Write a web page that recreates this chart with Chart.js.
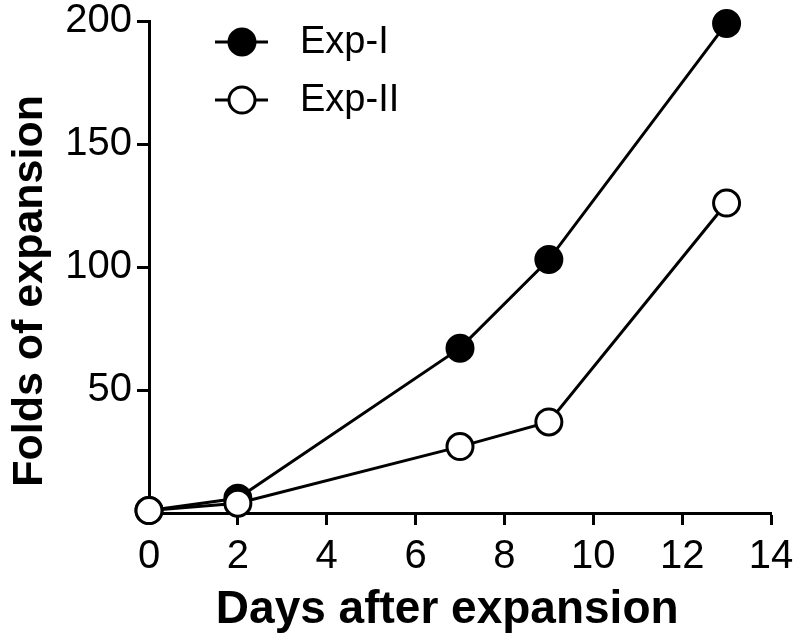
<!DOCTYPE html>
<html>
<head>
<meta charset="utf-8">
<script src="https://cdn.jsdelivr.net/npm/chart.js@4"></script>
<style>
  html, body { margin: 0; padding: 0; background: #fff; }
  #wrap { width: 796px; height: 643px; }
</style>
</head>
<body>
<div id="wrap"><canvas id="growthChart" width="796" height="643"></canvas></div>
<script>
// data
const days = [0, 2, 7, 9, 13];
const expOne = [1, 6, 67, 103, 199];
const expTwo = [1, 4, 27, 37, 126];
const seriesNames = ['Exp-I', 'Exp-II'];
const xTitle = 'Days after expansion\u00a0\u00a0';
const yTitle = 'Folds of expansion\u00a0\u00a0\u00a0\u00a0';

const FONT = '"Liberation Sans", Arial, Helvetica, sans-serif';

function toPoints(xs, ys) {
    return xs.map((x, i) => ({ x: x, y: ys[i] }));
}

// legend with a short line through the marker, like the original figure
const lineLegend = {
    id: 'lineLegend',
    afterDraw(chart) {
        const ctx = chart.ctx;
        const rows = [42, 100];
        chart.data.datasets.forEach((ds, i) => {
            const y = rows[i];
            ctx.save();
            ctx.strokeStyle = '#000';
            ctx.lineWidth = 3;
            ctx.beginPath();
            ctx.moveTo(215, y);
            ctx.lineTo(268, y);
            ctx.stroke();
            ctx.beginPath();
            ctx.arc(242, y, 13, 0, Math.PI * 2);
            ctx.fillStyle = ds.pointBackgroundColor;
            ctx.fill();
            ctx.stroke();
            ctx.fillStyle = '#000';
            ctx.font = '38px ' + FONT;
            ctx.textBaseline = 'middle';
            ctx.fillText(ds.label, 300, y + 1);
            ctx.restore();
        });
    }
};

const ctx = document.getElementById('growthChart').getContext('2d');
new Chart(ctx, {
    type: 'line',
    data: {
        datasets: [
            {
                label: seriesNames[0],
                data: toPoints(days, expOne),
                borderColor: '#000',
                borderWidth: 3,
                pointRadius: 13,
                pointHoverRadius: 13,
                pointBorderWidth: 3,
                pointBackgroundColor: '#000',
                pointBorderColor: '#000',
                tension: 0,
                clip: false,
                order: 1
            },
            {
                label: seriesNames[1],
                data: toPoints(days, expTwo),
                borderColor: '#000',
                borderWidth: 3,
                pointRadius: 13,
                pointHoverRadius: 13,
                pointBorderWidth: 3,
                pointBackgroundColor: '#fff',
                pointBorderColor: '#000',
                tension: 0,
                clip: false,
                order: 0
            }
        ]
    },
    options: {
        responsive: false,
        animation: false,
        layout: { padding: { left: 0, right: 25, top: 21, bottom: 0 } },
        plugins: {
            legend: { display: false },
            tooltip: { enabled: false }
        },
        scales: {
            x: {
                type: 'linear',
                min: 0,
                max: 14,
                afterFit(scale) {
                    scale.height = 130;
                    scale.paddingRight = 0;
                    scale.paddingLeft = 0;
                },
                ticks: {
                    stepSize: 2,
                    color: '#000',
                    padding: 8,
                    font: { family: FONT, size: 40 }
                },
                grid: {
                    drawOnChartArea: false,
                    drawTicks: true,
                    tickLength: 12,
                    tickWidth: 3,
                    tickColor: '#000'
                },
                border: { color: '#000', width: 3 },
                title: {
                    display: true,
                    text: xTitle,
                    color: '#000',
                    padding: { top: 0, bottom: 5 },
                    font: { family: FONT, size: 46, weight: 'bold' }
                }
            },
            y: {
                type: 'linear',
                min: 0,
                max: 200,
                afterFit(scale) {
                    scale.width = 149;
                    scale.paddingTop = 0;
                    scale.paddingBottom = 0;
                },
                ticks: {
                    stepSize: 50,
                    color: '#000',
                    padding: 5,
                    font: { family: FONT, size: 40 },
                    callback: v => (v === 0 ? '' : v)
                },
                grid: {
                    drawOnChartArea: false,
                    drawTicks: true,
                    tickLength: 12,
                    tickWidth: 3,
                    tickColor: '#000'
                },
                border: { color: '#000', width: 3 },
                title: {
                    display: true,
                    text: yTitle,
                    color: '#000',
                    padding: { top: 4, bottom: 0 },
                    font: { family: FONT, size: 43, weight: 'bold' }
                }
            }
        }
    },
    plugins: [lineLegend]
});
</script>
</body>
</html>
